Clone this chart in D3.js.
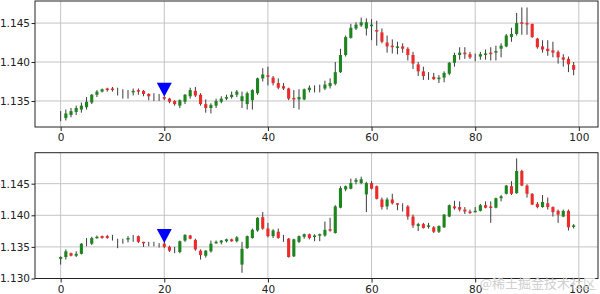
<!DOCTYPE html>
<html>
<head>
<meta charset="utf-8">
<script src="https://cdn.jsdelivr.net/npm/d3@7"></script>
<style>
  body { margin: 0; background: #fff; }
  svg { display: block; }
</style>
</head>
<body>
<svg id="chart" width="600" height="294"></svg>
<script>
// tick labels
const xTicks = [0, 20, 40, 60, 80, 100];
const yTicksTop = [1.135, 1.140, 1.145];
const yTicksBottom = [1.130, 1.135, 1.140, 1.145];

// signal marker (index 20)
const markerIndex = [20];
const markerTop = [1.13645];
const markerBottom = [1.13674];

// upper panel OHLC
const topOpen = [1.1331,1.1328,1.1332,1.1336,1.1339,1.1342,1.1348,1.1358,1.1362,1.1366,
  1.1366,1.1362,1.1360,1.1362,1.1361,1.1364,1.1363,1.1359,1.1355,1.1354,
  1.1355,1.1353,1.1350,1.1344,1.1349,1.1356,1.1363,1.1358,1.1346,1.1341,
  1.1344,1.1349,1.1353,1.1355,1.1358,1.1350,1.1346,1.1351,1.1360,1.1379,
  1.1383,1.1380,1.1373,1.1369,1.1366,1.1354,1.1352,1.1352,1.1364,1.1367,
  1.1368,1.1366,1.1369,1.1372,1.1387,1.1409,1.1431,1.1443,1.1447,1.1443,
  1.1446,1.1441,1.1438,1.1425,1.1421,1.1419,1.1420,1.1417,1.1409,1.1397,
  1.1388,1.1384,1.1381,1.1378,1.1380,1.1385,1.1399,1.1409,1.1412,1.1410,
  1.1409,1.1407,1.1410,1.1412,1.1412,1.1417,1.1420,1.1432,1.1436,1.1451,
  1.1450,1.1449,1.1430,1.1420,1.1417,1.1415,1.1413,1.1406,1.1404,1.1396];
const topHigh = [1.1337,1.1339,1.1341,1.1344,1.1348,1.1355,1.1359,1.1364,1.1366,1.1367,
  1.1368,1.1367,1.1365,1.1364,1.1366,1.1366,1.1364,1.1360,1.1360,1.1359,
  1.1356,1.1354,1.1351,1.1352,1.1359,1.1367,1.1368,1.1360,1.1352,1.1347,
  1.1353,1.1356,1.1358,1.1362,1.1364,1.1362,1.1362,1.1365,1.1380,1.1392,
  1.1394,1.1382,1.1379,1.1373,1.1367,1.1364,1.1365,1.1366,1.1370,1.1370,
  1.1371,1.1376,1.1379,1.1400,1.1417,1.1434,1.1449,1.1451,1.1457,1.1456,
  1.1455,1.1453,1.1443,1.1434,1.1429,1.1426,1.1424,1.1419,1.1413,1.1400,
  1.1394,1.1387,1.1386,1.1383,1.1388,1.1400,1.1412,1.1419,1.1419,1.1413,
  1.1411,1.1413,1.1416,1.1419,1.1421,1.1424,1.1436,1.1444,1.1463,1.1470,
  1.1470,1.1449,1.1431,1.1428,1.1428,1.1426,1.1415,1.1410,1.1407,1.1400];
const topLow = [1.1324,1.1325,1.1329,1.1332,1.1335,1.1339,1.1346,1.1355,1.1361,1.1362,
  1.1362,1.1357,1.1353,1.1353,1.1357,1.1358,1.1356,1.1351,1.1350,1.1350,
  1.1351,1.1347,1.1344,1.1341,1.1346,1.1353,1.1355,1.1344,1.1335,1.1334,
  1.1341,1.1347,1.1351,1.1353,1.1355,1.1341,1.1339,1.1339,1.1358,1.1375,
  1.1370,1.1370,1.1365,1.1364,1.1351,1.1341,1.1339,1.1351,1.1361,1.1361,
  1.1361,1.1364,1.1366,1.1370,1.1386,1.1407,1.1430,1.1441,1.1445,1.1434,
  1.1428,1.1421,1.1424,1.1412,1.1411,1.1410,1.1412,1.1402,1.1391,1.1382,
  1.1377,1.1377,1.1377,1.1373,1.1374,1.1383,1.1394,1.1403,1.1404,1.1404,
  1.1401,1.1403,1.1403,1.1402,1.1402,1.1406,1.1419,1.1426,1.1434,1.1435,
  1.1435,1.1431,1.1417,1.1412,1.1408,1.1406,1.1398,1.1394,1.1387,1.1383];
const topClose = [1.1331,1.1334,1.1337,1.1341,1.1344,1.1349,1.1358,1.1362,1.1365,1.1364,
  1.1364,1.1362,1.1360,1.1362,1.1363,1.1362,1.1359,1.1356,1.1355,1.1354,
  1.1353,1.1349,1.1346,1.1351,1.1358,1.1364,1.1357,1.1346,1.1341,1.1345,
  1.1350,1.1353,1.1355,1.1358,1.1362,1.1356,1.1360,1.1364,1.1379,1.1384,
  1.1381,1.1373,1.1367,1.1366,1.1353,1.1352,1.1355,1.1365,1.1367,1.1367,
  1.1368,1.1371,1.1373,1.1387,1.1409,1.1432,1.1444,1.1448,1.1451,1.1451,
  1.1448,1.1439,1.1426,1.1420,1.1419,1.1420,1.1417,1.1409,1.1398,1.1388,
  1.1382,1.1384,1.1378,1.1380,1.1386,1.1399,1.1409,1.1412,1.1410,1.1406,
  1.1409,1.1410,1.1411,1.1411,1.1414,1.1421,1.1434,1.1436,1.1450,1.1449,
  1.1449,1.1432,1.1419,1.1416,1.1414,1.1412,1.1406,1.1403,1.1397,1.1390];

// lower panel OHLC
const botOpen = [1.1331,1.1334,1.1340,1.1336,1.1339,1.1360,1.1355,1.1364,1.1367,1.1367,
  1.1366,1.1363,1.1362,1.1362,1.1366,1.1367,1.1358,1.1356,1.1355,1.1354,
  1.1355,1.1350,1.1344,1.1342,1.1360,1.1368,1.1361,1.1344,1.1336,1.1343,
  1.1356,1.1357,1.1359,1.1362,1.1359,1.1322,1.1348,1.1364,1.1376,1.1397,
  1.1379,1.1367,1.1374,1.1363,1.1363,1.1335,1.1358,1.1366,1.1370,1.1366,
  1.1368,1.1368,1.1378,1.1372,1.1412,1.1441,1.1442,1.1453,1.1451,1.1433,
  1.1451,1.1446,1.1425,1.1414,1.1425,1.1419,1.1417,1.1414,1.1398,1.1383,
  1.1386,1.1383,1.1381,1.1374,1.1381,1.1398,1.1414,1.1413,1.1409,1.1406,
  1.1406,1.1407,1.1416,1.1414,1.1412,1.1427,1.1434,1.1446,1.1435,1.1470,
  1.1447,1.1434,1.1418,1.1413,1.1419,1.1413,1.1407,1.1398,1.1407,1.1383];
const botHigh = [1.1335,1.1346,1.1341,1.1343,1.1356,1.1364,1.1366,1.1368,1.1368,1.1369,
  1.1369,1.1363,1.1363,1.1367,1.1369,1.1368,1.1358,1.1358,1.1358,1.1356,
  1.1358,1.1352,1.1350,1.1360,1.1370,1.1369,1.1363,1.1346,1.1345,1.1360,
  1.1360,1.1361,1.1363,1.1363,1.1367,1.1358,1.1368,1.1379,1.1397,1.1405,
  1.1388,1.1378,1.1379,1.1369,1.1364,1.1363,1.1368,1.1371,1.1371,1.1370,
  1.1371,1.1390,1.1396,1.1416,1.1446,1.1447,1.1458,1.1459,1.1461,1.1453,
  1.1454,1.1447,1.1428,1.1428,1.1434,1.1419,1.1419,1.1416,1.1401,1.1388,
  1.1388,1.1388,1.1383,1.1384,1.1402,1.1417,1.1423,1.1422,1.1413,1.1409,
  1.1413,1.1418,1.1422,1.1422,1.1428,1.1432,1.1448,1.1454,1.1490,1.1472,
  1.1449,1.1435,1.1421,1.1432,1.1428,1.1414,1.1409,1.1409,1.1409,1.1386];
const botLow = [1.1322,1.1330,1.1335,1.1334,1.1338,1.1351,1.1353,1.1363,1.1363,1.1363,
  1.1360,1.1348,1.1355,1.1357,1.1358,1.1356,1.1350,1.1351,1.1351,1.1349,
  1.1348,1.1342,1.1340,1.1340,1.1358,1.1362,1.1344,1.1330,1.1333,1.1341,
  1.1355,1.1354,1.1357,1.1358,1.1357,1.1309,1.1347,1.1363,1.1374,1.1377,
  1.1365,1.1364,1.1363,1.1358,1.1333,1.1334,1.1356,1.1363,1.1362,1.1359,
  1.1359,1.1366,1.1374,1.1371,1.1411,1.1438,1.1441,1.1449,1.1449,1.1405,
  1.1441,1.1425,1.1409,1.1409,1.1417,1.1408,1.1406,1.1393,1.1380,1.1375,
  1.1379,1.1379,1.1372,1.1372,1.1380,1.1397,1.1409,1.1406,1.1402,1.1402,
  1.1405,1.1406,1.1411,1.1388,1.1411,1.1422,1.1433,1.1432,1.1434,1.1446,
  1.1428,1.1416,1.1411,1.1412,1.1409,1.1398,1.1388,1.1397,1.1376,1.1379];
const botClose = [1.1334,1.1343,1.1336,1.1339,1.1355,1.1360,1.1364,1.1366,1.1364,1.1364,
  1.1366,1.1363,1.1362,1.1364,1.1366,1.1358,1.1356,1.1356,1.1355,1.1354,
  1.1350,1.1344,1.1344,1.1359,1.1369,1.1363,1.1346,1.1337,1.1344,1.1355,
  1.1358,1.1360,1.1362,1.1359,1.1365,1.1347,1.1367,1.1377,1.1396,1.1379,
  1.1367,1.1376,1.1364,1.1363,1.1334,1.1362,1.1367,1.1370,1.1364,1.1368,
  1.1370,1.1377,1.1377,1.1414,1.1443,1.1446,1.1451,1.1456,1.1457,1.1451,
  1.1442,1.1426,1.1413,1.1425,1.1419,1.1417,1.1417,1.1398,1.1384,1.1386,
  1.1380,1.1384,1.1374,1.1383,1.1401,1.1416,1.1411,1.1409,1.1406,1.1405,
  1.1407,1.1416,1.1412,1.1413,1.1427,1.1430,1.1447,1.1434,1.1470,1.1447,
  1.1434,1.1417,1.1413,1.1421,1.1413,1.1405,1.1401,1.1407,1.1381,1.1384];

const svg = d3.select('#chart');
const font = '"DejaVu Sans", sans-serif';
const upColor = '#1d851d';
const downColor = '#ee2a2a';
const wickColor = '#3c3c3c';

function drawPanel(cfg) {
    const x = d3.scaleLinear().domain([-4.95, 103.7]).range([35, 598]);
    const y = d3.scaleLinear().domain(cfg.yDomain).range([cfg.bottom, cfg.top]);
    const g = svg.append('g');

    // grid
    g.append('g').selectAll('line').data(xTicks).enter().append('line')
        .attr('x1', d => x(d)).attr('x2', d => x(d))
        .attr('y1', cfg.top).attr('y2', cfg.bottom)
        .attr('stroke', '#c4c4c4').attr('stroke-width', 1);
    g.append('g').selectAll('line').data(cfg.yTicks).enter().append('line')
        .attr('x1', 35).attr('x2', 598)
        .attr('y1', d => y(d)).attr('y2', d => y(d))
        .attr('stroke', '#c4c4c4').attr('stroke-width', 1);

    const candles = d3.range(cfg.open.length).map(i => ({
        i, o: cfg.open[i], h: cfg.high[i], l: cfg.low[i], c: cfg.close[i]
    }));

    // wicks
    g.append('g').selectAll('line').data(candles).enter().append('line')
        .attr('x1', d => x(d.i)).attr('x2', d => x(d.i))
        .attr('y1', d => y(d.h)).attr('y2', d => y(d.l))
        .attr('stroke', wickColor).attr('stroke-width', 1);

    // bodies
    const bw = x(0.3) - x(0);
    g.append('g').selectAll('rect').data(candles.filter(d => d.o !== d.c)).enter().append('rect')
        .attr('x', d => x(d.i) - bw)
        .attr('width', bw * 2)
        .attr('y', d => y(Math.max(d.o, d.c)))
        .attr('height', d => Math.max(1.5, Math.abs(y(d.o) - y(d.c))))
        .attr('fill', d => d.c > d.o ? upColor : downColor);

    // marker
    g.append('g').selectAll('path').data(markerIndex).enter().append('path')
        .attr('d', (d, k) => {
            const cx = x(d), cy = y(cfg.marker[k]);
            return `M${cx - 7.5},${cy - 7}L${cx + 7.5},${cy - 7}L${cx},${cy + 7}Z`;
        })
        .attr('fill', '#0000ff');

    // frame
    g.append('rect')
        .attr('x', 35).attr('y', cfg.top)
        .attr('width', 598 - 35).attr('height', cfg.bottom - cfg.top)
        .attr('fill', 'none').attr('stroke', '#222').attr('stroke-width', 1);

    // axes
    const xAxis = g.append('g').attr('transform', `translate(0,${cfg.bottom})`)
        .call(d3.axisBottom(x).tickValues(xTicks).tickSize(4).tickPadding(3).tickFormat(d3.format('d')));
    const yAxis = g.append('g').attr('transform', 'translate(35,0)')
        .call(d3.axisLeft(y).tickValues(cfg.yTicks).tickSize(3.5).tickPadding(1.5).tickFormat(d3.format('.3f')));
    [xAxis, yAxis].forEach(a => {
        a.select('.domain').remove();
        a.selectAll('line').attr('stroke', '#222');
        a.selectAll('text').attr('font-family', font).attr('font-size', 10.5).attr('fill', '#222');
    });
}

drawPanel({
    top: 1, bottom: 127, yDomain: [1.13166, 1.14783], yTicks: yTicksTop,
    open: topOpen, high: topHigh, low: topLow, close: topClose, marker: markerTop
});
drawPanel({
    top: 152.7, bottom: 278.5, yDomain: [1.130, 1.1499], yTicks: yTicksBottom,
    open: botOpen, high: botHigh, low: botLow, close: botClose, marker: markerBottom
});

// watermark
svg.append('text')
    .attr('x', 596).attr('y', 288)
    .attr('text-anchor', 'end')
    .attr('font-family', '"Noto Sans CJK SC", sans-serif')
    .attr('font-size', 13)
    .attr('fill', '#cfcfcf')
    .text('@稀土掘金技术社区');
</script>
</body>
</html>
